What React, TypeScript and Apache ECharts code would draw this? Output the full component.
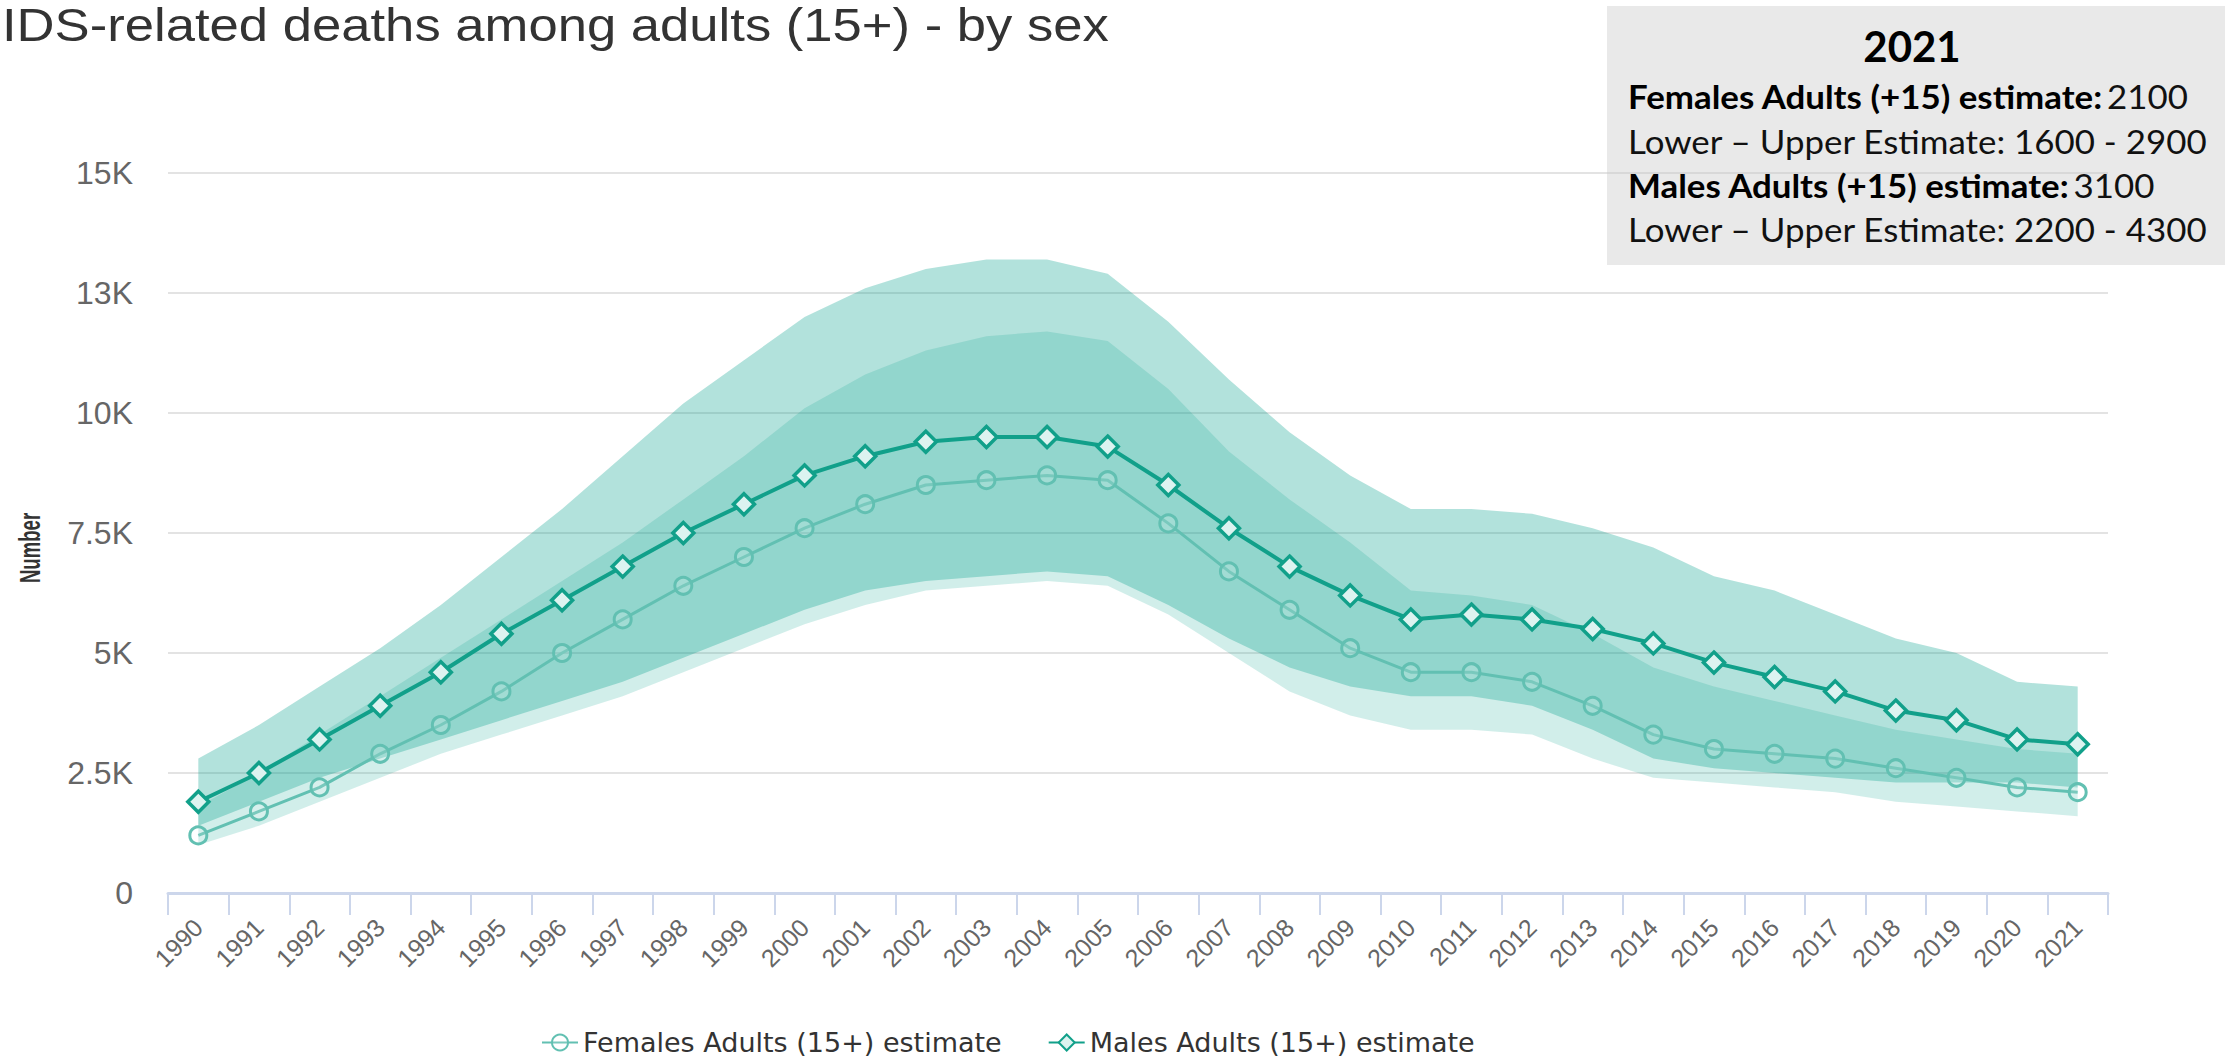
import React, { useEffect, useRef } from "react";
import * as echarts from "echarts";

const years = [
  "1990", "1991", "1992", "1993", "1994", "1995", "1996", "1997", "1998", "1999",
  "2000", "2001", "2002", "2003", "2004", "2005", "2006", "2007", "2008", "2009",
  "2010", "2011", "2012", "2013", "2014", "2015", "2016", "2017", "2018", "2019",
  "2020", "2021",
];

const femaleEstimate = [
  1200, 1700, 2200, 2900, 3500, 4200, 5000, 5700, 6400, 7000,
  7600, 8100, 8500, 8600, 8700, 8600, 7700, 6700, 5900, 5100,
  4600, 4600, 4400, 3900, 3300, 3000, 2900, 2800, 2600, 2400,
  2200, 2100,
];
const femaleLower = [
  1000, 1400, 1900, 2400, 2900, 3300, 3700, 4100, 4600, 5100,
  5600, 6000, 6300, 6400, 6500, 6400, 5800, 5000, 4200, 3700,
  3400, 3400, 3300, 2800, 2400, 2300, 2200, 2100, 1900, 1800,
  1700, 1600,
];
const femaleUpper = [
  1800, 2500, 3300, 4100, 4900, 5700, 6500, 7300, 8200, 9100,
  10100, 10800, 11300, 11600, 11700, 11500, 10500, 9200, 8200, 7300,
  6300, 6200, 6000, 5400, 4700, 4300, 4000, 3700, 3400, 3200,
  3000, 2900,
];

const maleEstimate = [
  1900, 2500, 3200, 3900, 4600, 5400, 6100, 6800, 7500, 8100,
  8700, 9100, 9400, 9500, 9500, 9300, 8500, 7600, 6800, 6200,
  5700, 5800, 5700, 5500, 5200, 4800, 4500, 4200, 3800, 3600,
  3200, 3100,
];
const maleLower = [
  1400, 1900, 2400, 2800, 3200, 3600, 4000, 4400, 4900, 5400,
  5900, 6300, 6500, 6600, 6700, 6600, 6000, 5300, 4700, 4300,
  4100, 4100, 3900, 3400, 2800, 2600, 2500, 2400, 2300, 2300,
  2300, 2200,
];
const maleUpper = [
  2800, 3500, 4300, 5100, 6000, 7000, 8000, 9100, 10200, 11100,
  12000, 12600, 13000, 13200, 13200, 12900, 11900, 10700, 9600, 8700,
  8000, 8000, 7900, 7600, 7200, 6600, 6300, 5800, 5300, 5000,
  4400, 4300,
];

const yTickLabels = ["0", "2.5K", "5K", "7.5K", "10K", "13K", "15K"];
const seriesNames = ["Females Adults (15+) estimate", "Males Adults (15+) estimate"];
const titleText = "IDS-related deaths among adults (15+) - by sex";
const yAxisTitle = "Number";
const boxYear = "2021";
const boxLines = [
  { bold: "Females Adults (+15) estimate:", normal: "2100" },
  { bold: "", normal: "Lower \u2013 Upper Estimate: 1600 - 2900" },
  { bold: "Males Adults (+15) estimate:", normal: "3100" },
  { bold: "", normal: "Lower \u2013 Upper Estimate: 2200 - 4300" },
];

const BAND = "rgb(0,160,140)";
const MALE = "#11a08a";
const FEMALE = "#62c0b2";

export default function App() {
  const ref = useRef<HTMLDivElement>(null);

  useEffect(() => {
    if (!ref.current) return;
    const chart = echarts.init(ref.current, null, { renderer: "svg" });

    const maleRange = maleUpper.map((u, i) => u - maleLower[i]);
    const femaleRange = femaleUpper.map((u, i) => u - femaleLower[i]);

    const boxFont = "Lato";
    const boxTexts: any[] = boxLines.map((ln, i) => ({
      type: "text",
      x: 1628,
      y: 97 + i * 44.3,
      z: 20,
      scaleX: 1.09,
      style: {
        text: ln.bold ? `{b|${ln.bold}} {r|${ln.normal}}` : `{r|${ln.normal}}`,
        verticalAlign: "middle",
        align: "left",
        rich: {
          b: { fontSize: 32, fontWeight: "bold", fontFamily: boxFont, fill: "#000" },
          r: { fontSize: 32, fontWeight: "normal", fontFamily: boxFont, fill: "#111" },
        },
      },
    }));

    const option: any = {
      animation: false,
      backgroundColor: "#ffffff",
      grid: { left: 168, right: 117, top: 173, bottom: 164, containLabel: false },
      legend: {
        data: seriesNames,
        left: 536,
        top: 1024,
        itemWidth: 36,
        itemHeight: 20,
        itemGap: 46,
        textStyle: { fontSize: 27, fontFamily: "DejaVu Sans", color: "#333" },
      },
      xAxis: {
        type: "category",
        data: years,
        boundaryGap: true,
        axisLine: { lineStyle: { color: "#ccd6eb", width: 3 } },
        axisTick: { show: true, alignWithLabel: false, interval: 0, length: 22, lineStyle: { color: "#ccd6eb", width: 2 } },
        axisLabel: { interval: 0, rotate: 45, fontSize: 25, color: "#666", margin: 30, fontFamily: "Liberation Sans" },
        splitLine: { show: false },
      },
      yAxis: {
        type: "value",
        min: 0,
        max: 15000,
        interval: 2500,
        axisLine: { show: false },
        axisTick: { show: false },
        axisLabel: {
          formatter: (v: number) => yTickLabels[Math.round(v / 2500)],
          fontSize: 32,
          color: "#666",
          margin: 35,
          fontFamily: "Liberation Sans",
        },
        splitLine: { lineStyle: { color: "#e3e3e3", width: 2 } },
      },
      series: [
        {
          type: "line", name: "mLow", data: maleLower, stack: "m", symbol: "none", silent: true,
          lineStyle: { opacity: 0 }, z: 1,
        },
        {
          type: "line", name: "mRange", data: maleRange, stack: "m", symbol: "none", silent: true,
          lineStyle: { opacity: 0 }, areaStyle: { color: BAND, opacity: 0.3 }, z: 1,
        },
        {
          type: "line", name: "fLow", data: femaleLower, stack: "f", symbol: "none", silent: true,
          lineStyle: { opacity: 0 }, z: 1,
        },
        {
          type: "line", name: "fRange", data: femaleRange, stack: "f", symbol: "none", silent: true,
          lineStyle: { opacity: 0 }, areaStyle: { color: BAND, opacity: 0.18 }, z: 1,
        },
        {
          type: "line", name: seriesNames[0], data: femaleEstimate, symbol: "circle", symbolSize: 17,
          lineStyle: { color: FEMALE, width: 3 },
          itemStyle: { color: "rgba(255,255,255,0.15)", borderColor: FEMALE, borderWidth: 3 },
          z: 3,
        },
        {
          type: "line", name: seriesNames[1], data: maleEstimate, symbol: "diamond", symbolSize: 21,
          lineStyle: { color: MALE, width: 4 },
          itemStyle: { color: "#dcf3f0", borderColor: MALE, borderWidth: 3.5 },
          z: 4,
        },
      ],
      graphic: [
        {
          type: "text", x: 2, y: 25, scaleX: 1.12,
          style: { text: titleText, fontSize: 47, fontFamily: "Liberation Sans", fill: "#333", align: "left", verticalAlign: "middle" },
        },
        {
          type: "text", x: 29, y: 548, rotation: Math.PI / 2, scaleX: 0.62,
          style: { text: yAxisTitle, fontSize: 30, fontWeight: "bold", fontFamily: "Liberation Sans", fill: "#333", align: "center", verticalAlign: "middle" },
        },
        {
          type: "rect", z: 10,
          shape: { x: 1607, y: 6, width: 618, height: 259 },
          style: { fill: "rgba(200,200,200,0.4)" },
        },
        {
          type: "text", x: 1912, y: 46, z: 20,
          style: { text: boxYear, fontSize: 42, fontWeight: "bold", fontFamily: boxFont, fill: "#000", align: "center", verticalAlign: "middle" },
        },
        ...boxTexts,
      ],
    };

    chart.setOption(option);
    return () => chart.dispose();
  }, []);

  return (
    <div
      ref={ref}
      style={{ position: "fixed", left: 0, top: 0, width: 2225, height: 1057, background: "#fff" }}
    />
  );
}
